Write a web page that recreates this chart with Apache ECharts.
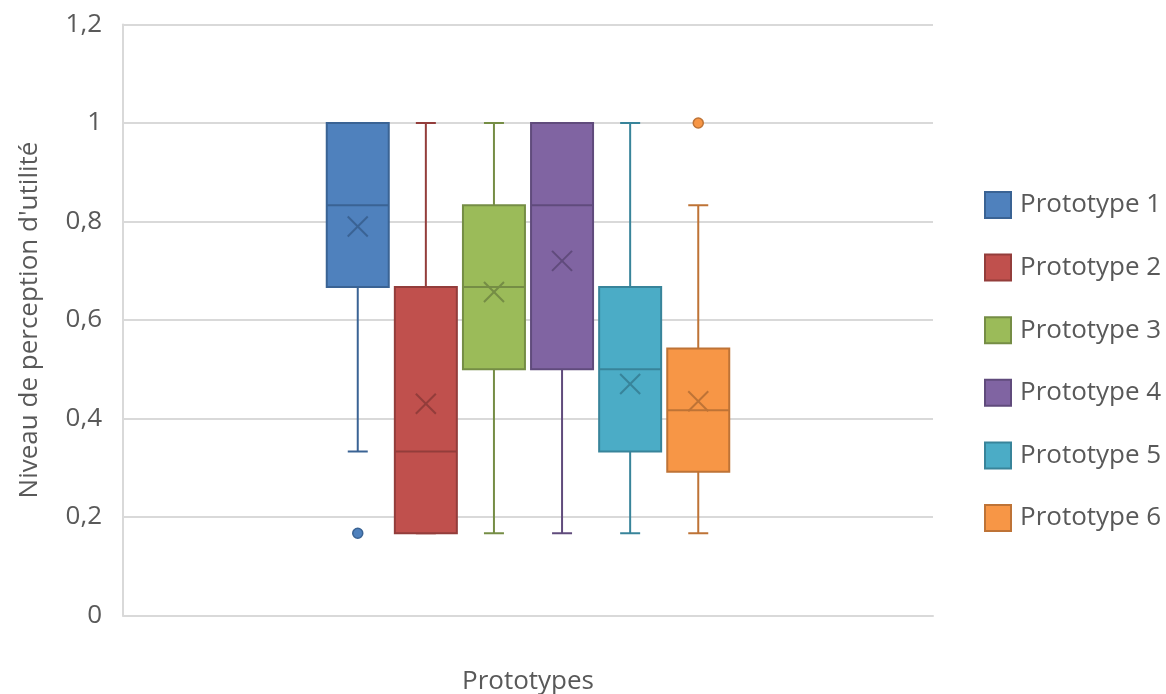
<!DOCTYPE html>
<html>
<head>
<meta charset="utf-8">
<script src="https://cdn.jsdelivr.net/npm/echarts@6/dist/echarts.min.js"></script>
<style>
html,body{margin:0;padding:0;background:#fff;}
#chart{width:1166px;height:694px;}
</style>
</head>
<body>
<div id="chart"></div>
<script>
// ---- data ----
const names   = ['Prototype 1', 'Prototype 2', 'Prototype 3', 'Prototype 4', 'Prototype 5', 'Prototype 6'];
const mins    = [0.333, 0.167, 0.167, 0.167, 0.167, 0.167];
const q1s     = [0.667, 0.167, 0.5,   0.5,   0.333, 0.292];
const medians = [0.833, 0.333, 0.667, 0.833, 0.5,   0.417];
const q3s     = [1.0,   0.667, 0.833, 1.0,   0.667, 0.542];
const maxs    = [1.0,   1.0,   1.0,   1.0,   1.0,   0.833];
const means   = [0.79,  0.43,  0.657, 0.72,  0.47,  0.435];
const outliers = [[0.167], [], [], [], [], [1.0]];
const yTicks  = ['0', '0,2', '0,4', '0,6', '0,8', '1', '1,2'];

// ---- styles ----
const fills   = ['#4F81BD', '#C0504D', '#9BBB59', '#8064A2', '#4BACC6', '#F79646'];
const borders = ['#3A6394', '#933D3B', '#758D45', '#604B7C', '#38849A', '#BE7336'];
const FONT = '"Open Sans", sans-serif';
const TXT = '#595959';
const BOX_FRAC = 62 / 810;     // box width as fraction of the band
const PITCH_FRAC = 68.1 / 810; // distance between box centres
const CAP_FRAC = 20 / 810;

function makeRender(i) {
  return function (params, api) {
    const band = api.size([1, 0])[0];
    const base = api.coord([0, 0])[0];
    const cx = base + (i - (names.length - 1) / 2) * band * PITCH_FRAC;
    const w = band * BOX_FRAC;
    const cap = band * CAP_FRAC;
    const stroke = borders[i];
    const ly = v => api.coord([0, v])[1];
    if (params.dataIndex > 0) {
      const y = ly(api.value(1));
      return {
        type: 'circle',
        shape: { cx: cx, cy: y, r: 5 },
        style: { fill: fills[i], stroke: stroke, lineWidth: 1.5 }
      };
    }
    const yMin = ly(api.value(1)), yQ1 = ly(api.value(2)), yMed = ly(api.value(3));
    const yQ3 = ly(api.value(4)), yMax = ly(api.value(5)), yMean = ly(api.value(6));
    const ls = { stroke: stroke, lineWidth: 2 };
    const m = 10;
    return {
      type: 'group',
      children: [
        { type: 'line', shape: { x1: cx, y1: yQ3, x2: cx, y2: yMax }, style: ls },
        { type: 'line', shape: { x1: cx - cap / 2, y1: yMax, x2: cx + cap / 2, y2: yMax }, style: ls },
        { type: 'line', shape: { x1: cx, y1: yQ1, x2: cx, y2: yMin }, style: ls },
        { type: 'line', shape: { x1: cx - cap / 2, y1: yMin, x2: cx + cap / 2, y2: yMin }, style: ls },
        { type: 'rect', shape: { x: cx - w / 2, y: yQ3, width: w, height: yQ1 - yQ3 },
          style: { fill: fills[i], stroke: stroke, lineWidth: 2 } },
        { type: 'line', shape: { x1: cx - w / 2, y1: yMed, x2: cx + w / 2, y2: yMed }, style: ls },
        { type: 'line', shape: { x1: cx - m, y1: yMean - m, x2: cx + m, y2: yMean + m }, style: ls },
        { type: 'line', shape: { x1: cx - m, y1: yMean + m, x2: cx + m, y2: yMean - m }, style: ls }
      ]
    };
  };
}

const series = names.map((n, i) => ({
  name: n,
  type: 'custom',
  renderItem: makeRender(i),
  itemStyle: { color: fills[i], borderColor: borders[i], borderWidth: 2 },
  encode: { x: 0, y: [1, 2, 3, 4, 5, 6] },
  data: [[0, mins[i], q1s[i], medians[i], q3s[i], maxs[i], means[i]]]
    .concat(outliers[i].map(v => [0, v])),
  clip: false,
  z: 3
}));

const chart = echarts.init(document.getElementById('chart'), null, { renderer: 'canvas' });
chart.setOption({
  animation: false,
  backgroundColor: '#ffffff',
  grid: { left: 123, right: 233, top: 24.5, bottom: 78.5, outerBoundsMode: 'none', containLabel: false },
  xAxis: {
    type: 'category',
    data: [''],
    name: 'Prototypes',
    nameLocation: 'middle',
    nameGap: 53,
    nameTextStyle: { color: TXT, fontSize: 26, fontFamily: FONT },
    axisLine: { show: true, lineStyle: { color: '#d9d9d9', width: 2 } },
    axisTick: { show: false },
    axisLabel: { show: false },
    splitLine: { show: false }
  },
  yAxis: {
    type: 'value',
    min: 0, max: 1.2, interval: 0.2,
    name: "Niveau de perception d'utilité",
    nameLocation: 'middle',
    nameGap: 80,
    nameTextStyle: { color: TXT, fontSize: 26, fontFamily: FONT },
    axisLine: { show: true, lineStyle: { color: '#d9d9d9', width: 2 } },
    axisTick: { show: false },
    axisLabel: {
      color: TXT, fontSize: 26, fontFamily: FONT, margin: 21,
      formatter: v => yTicks[Math.round(v / 0.2)]
    },
    splitLine: { show: true, lineStyle: { color: '#d9d9d9', width: 2 } }
  },
  legend: {
    orient: 'vertical',
    left: 979, top: 186,
    icon: 'rect',
    itemWidth: 26, itemHeight: 26, itemGap: 34.6,
    textStyle: { color: TXT, fontSize: 26, fontFamily: FONT, padding: [0, 0, 0, 4] },
    data: names.map((n, i) => ({
      name: n,
      itemStyle: { color: fills[i], borderColor: borders[i], borderWidth: 2 }
    }))
  },
  series: series
});
</script>
</body>
</html>
